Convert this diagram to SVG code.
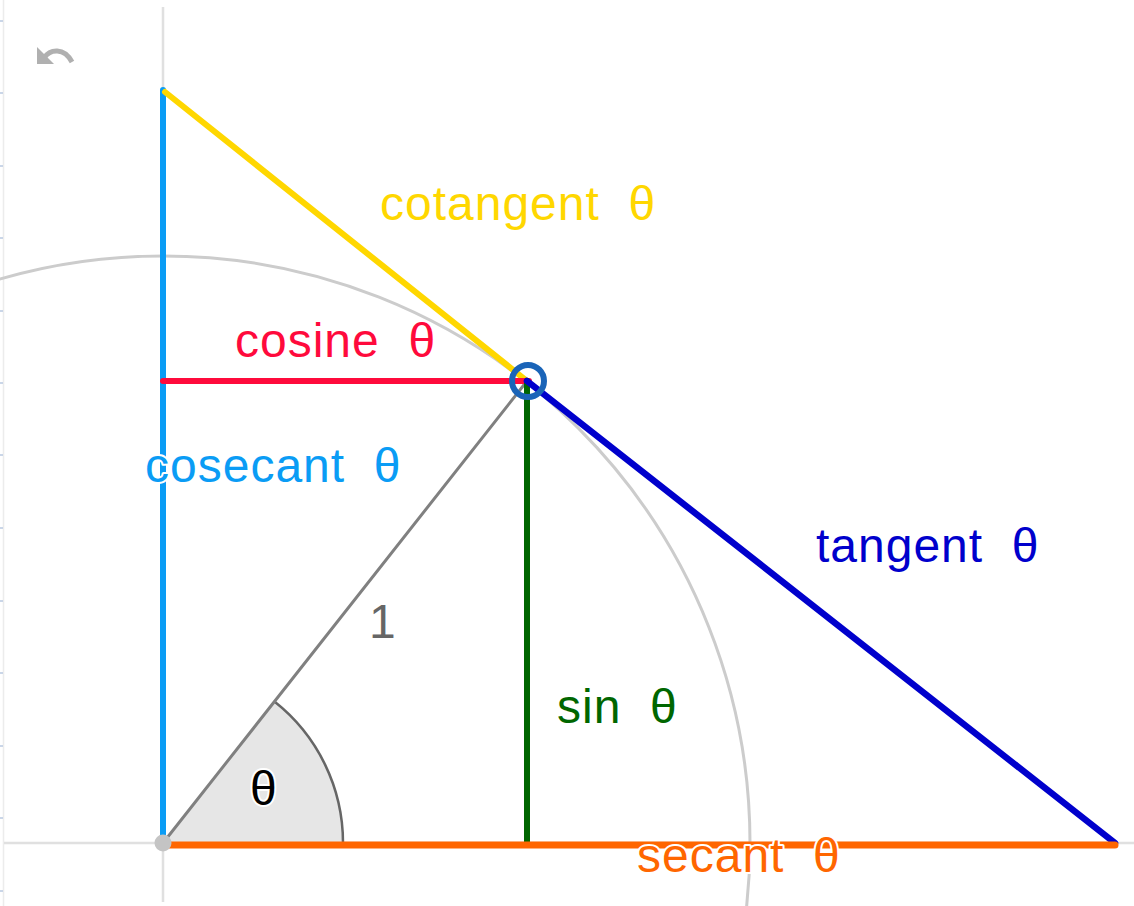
<svg xmlns="http://www.w3.org/2000/svg" width="1134" height="906" viewBox="0 0 1134 906">
<style>
.lbl{font-family:"Liberation Sans",Arial,sans-serif;font-size:48px;letter-spacing:1px;white-space:pre;paint-order:stroke;stroke:#fff;stroke-width:4px;stroke-linejoin:round}
.seg{fill:none;stroke-linecap:round}
.tick{stroke:#b8c8e0;stroke-width:1.5}
</style>
<rect width="1134" height="906" fill="#fff"/>
<g id="frame">
<line x1="3.5" y1="0" x2="3.5" y2="906" stroke="#ececec" stroke-width="1.5"/>
<g class="tick">
<line x1="0" y1="21" x2="3" y2="21"/><line x1="0" y1="93" x2="3" y2="93"/><line x1="0" y1="166" x2="3" y2="166"/><line x1="0" y1="238" x2="3" y2="238"/><line x1="0" y1="311" x2="3" y2="311"/><line x1="0" y1="383" x2="3" y2="383"/><line x1="0" y1="455" x2="3" y2="455"/><line x1="0" y1="528" x2="3" y2="528"/><line x1="0" y1="601" x2="3" y2="601"/><line x1="0" y1="673" x2="3" y2="673"/><line x1="0" y1="746" x2="3" y2="746"/><line x1="0" y1="818" x2="3" y2="818"/><line x1="0" y1="891" x2="3" y2="891"/>
</g>
</g>
<g id="undo" fill="#b0b0b0" stroke="none">
<path d="M44,58 C50,49 64,47 72,62" fill="none" stroke="#b0b0b0" stroke-width="5"/>
<path d="M37,47 L37,64 L54,64 Z"/>
</g>
<g id="axes" stroke="#e0e0e0" stroke-width="2.5">
<line x1="163" y1="7" x2="163" y2="902"/>
<line x1="4" y1="843" x2="1134" y2="843"/>
</g>
<g id="unit-circle">
<circle cx="163" cy="843" r="587" fill="none" stroke="#cccccc" stroke-width="3"/>
</g>
<g id="angle">
<path d="M163,843 L343,843 A180,180 0 0 0 274.4,701.6 Z" fill="#e6e6e6" stroke="none"/>
<path d="M343,843 A180,180 0 0 0 274.4,701.6" fill="none" stroke="#666" stroke-width="2.5"/>
</g>
<g id="connectors">
<line id="radius" class="seg" x1="163" y1="843" x2="527" y2="381" stroke="#808080" stroke-width="3"/>
<line id="cosecant" class="seg" x1="163" y1="90" x2="163" y2="843" stroke="#0a9cf5" stroke-width="6"/>
<line id="cotangent" class="seg" x1="165" y1="92" x2="527" y2="381" stroke="#ffd700" stroke-width="6"/>
<line id="cosine" class="seg" x1="163" y1="381" x2="529" y2="381" stroke="#ff0a3c" stroke-width="6"/>
<line id="sine" class="seg" x1="527" y1="381" x2="527" y2="843" stroke="#006600" stroke-width="6"/>
<line id="tangent" class="seg" x1="527" y1="381" x2="1115" y2="843" stroke="#0000cc" stroke-width="6.5"/>
<line id="secant" class="seg" x1="163" y1="845" x2="1115" y2="845" stroke="#ff6600" stroke-width="7"/>
</g>
<g id="origin"><circle cx="163" cy="843" r="8.5" fill="#c4c4c4"/></g>
<g id="labels">
<text class="lbl" x="380" y="220" fill="#ffd700">cotangent  θ</text>
<text class="lbl" x="235" y="357" fill="#ff0a3c">cosine  θ</text>
<text class="lbl" x="145" y="482" fill="#0a9cf5">cosecant  θ</text>
<text class="lbl" x="816" y="562" fill="#0000cc">tangent  θ</text>
<text class="lbl" x="369" y="638" fill="#666666">1</text>
<text class="lbl" x="557" y="723" fill="#006600">sin  θ</text>
<text class="lbl" x="250" y="805" fill="#000000">θ</text>
<text class="lbl" x="637" y="872" fill="#ff6600">secant  θ</text>
</g>
<g id="point-P">
<circle cx="528" cy="381" r="16" fill="none" stroke="#1a64b8" stroke-width="6"/>
</g>
</svg>
